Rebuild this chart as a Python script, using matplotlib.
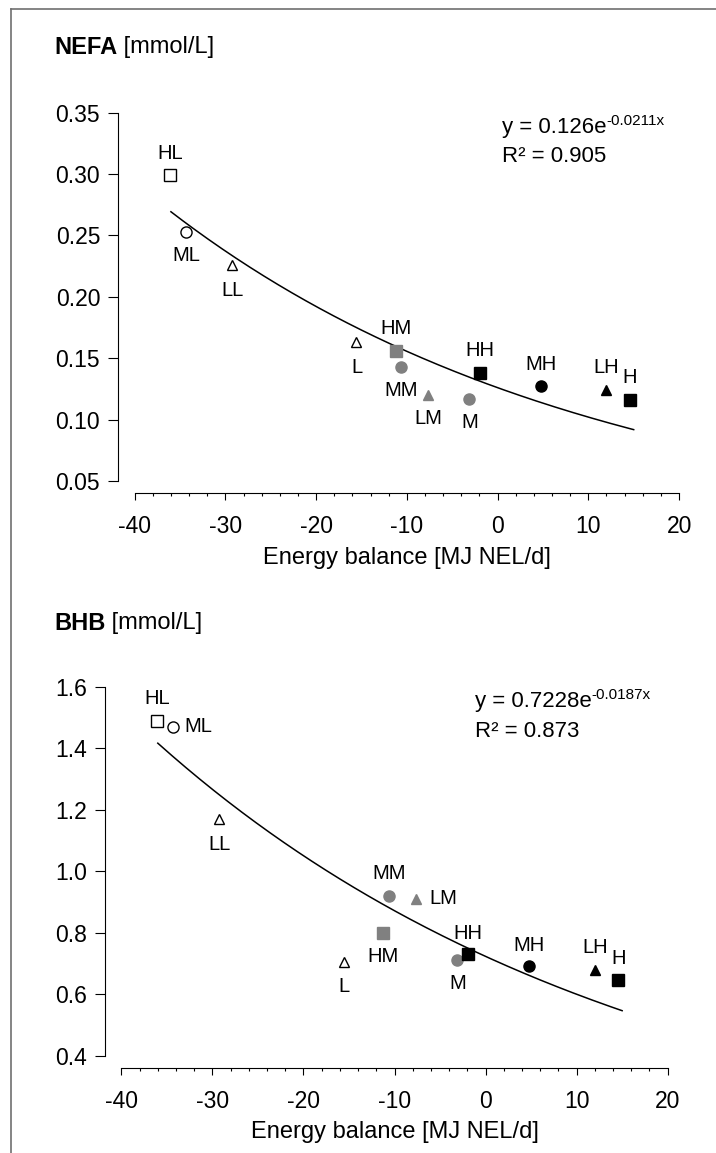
import numpy as np
import matplotlib
matplotlib.use("Agg")
import matplotlib.pyplot as plt
from matplotlib.lines import Line2D
from matplotlib.ticker import MultipleLocator, FormatStrFormatter

plt.rcParams['font.family'] = ['Liberation Sans', 'DejaVu Sans']
plt.rcParams['axes.unicode_minus'] = False

# group means per feeding group
groups = ['HL', 'ML', 'LL', 'L', 'HM', 'MM', 'LM', 'M', 'HH', 'MH', 'LH', 'H']
energy_balance = [-36.1, -34.35, -29.25, -15.55, -11.25, -10.6, -7.65, -3.1, -1.95, 4.75, 12.0, 14.6]
nefa = [0.299, 0.253, 0.226, 0.163, 0.156, 0.143, 0.120, 0.117, 0.138, 0.127, 0.124, 0.116]
bhb = [1.49, 1.47, 1.17, 0.705, 0.80, 0.92, 0.91, 0.71, 0.73, 0.69, 0.68, 0.645]

# exponential trend lines y = a*exp(b*x), with R^2
nefa_fit = (0.126, -0.0211, 0.905)
bhb_fit = (0.7228, -0.0187, 0.873)
fit_range = (-36.0, 15.0)

GRAY = '#808080'
# marker, face, edge
style = {
    'HL': ('s', 'white', 'black'), 'ML': ('o', 'white', 'black'),
    'LL': ('^', 'white', 'black'), 'L': ('^', 'white', 'black'),
    'HM': ('s', GRAY, GRAY), 'MM': ('o', GRAY, GRAY),
    'LM': ('^', GRAY, GRAY), 'M': ('o', GRAY, GRAY),
    'HH': ('s', 'black', 'black'), 'MH': ('o', 'black', 'black'),
    'LH': ('^', 'black', 'black'), 'H': ('s', 'black', 'black'),
}
msize = {'s': 8.5, 'o': 8.0, '^': 7.5}

# label offsets in points (dx, dy)
up, down = 16, -17
off_top = {'HL': (0, up), 'ML': (0, down), 'LL': (0, -18.5), 'L': (0, -18),
           'HM': (0, up), 'MM': (0, down), 'LM': (0, down), 'M': (0, down),
           'HH': (0, up), 'MH': (0, up), 'LH': (0, up), 'H': (0, up)}
off_bot = {'HL': (0, up), 'ML': (18, 0), 'LL': (0, -18.5), 'L': (0, -18),
           'HM': (0, down), 'MM': (0, up), 'LM': (20, 0), 'M': (0, down),
           'HH': (0, 15), 'MH': (0, 15), 'LH': (0, up), 'H': (0, up)}

W, H = 716, 1153
fig = plt.figure(figsize=(W / 100, H / 100), dpi=100)

# thin frame along the top and left edge
fig.add_artist(Line2D([10.7 / W, 10.7 / W], [0, 1 - 9 / H], transform=fig.transFigure,
                      color='#707070', lw=1.2))
fig.add_artist(Line2D([10.7 / W, 1], [1 - 9 / H, 1 - 9 / H], transform=fig.transFigure,
                      color='#707070', lw=1.2))


def build(rect, y, ylim, yticks, yfmt, fit, offsets, bold, rest, title_y, eq_pos):
    ax = fig.add_axes(rect)
    for g, xv, yv in zip(groups, energy_balance, y):
        m, fc, ec = style[g]
        ax.plot(xv, yv, m, ms=msize[m], mfc=fc, mec=ec, mew=1.0, zorder=3)
        ax.annotate(g, (xv, yv), xytext=offsets[g], textcoords='offset points',
                    ha='center', va='center', fontsize=14.5)
    a, b, r2 = fit
    xs = np.linspace(fit_range[0], fit_range[1], 200)
    ax.plot(xs, a * np.exp(b * xs), color='black', lw=1.1, zorder=2)

    ax.set_xlim(-41.8, 20.5)
    ax.set_ylim(*ylim)
    ax.spines['top'].set_visible(False)
    ax.spines['right'].set_visible(False)
    ax.spines['left'].set_bounds(yticks[0], yticks[-1])
    ax.spines['bottom'].set_bounds(-40, 20)
    for s in ('left', 'bottom'):
        ax.spines[s].set_linewidth(0.8)
    ax.set_xticks(np.arange(-40, 21, 10))
    ax.xaxis.set_minor_locator(MultipleLocator(2))
    ax.set_yticks(yticks)
    ax.yaxis.set_major_formatter(FormatStrFormatter(yfmt))
    ax.tick_params(axis='x', which='major', length=5, width=0.8, pad=11, labelsize=16.5)
    ax.tick_params(axis='x', which='minor', length=2.5, width=0.8)
    ax.tick_params(axis='y', which='major', length=7, width=0.8, pad=6, labelsize=16.5)

    # x label centred under the -40..20 spine
    ax.set_xlabel('Energy balance [MJ NEL/d]', fontsize=17, labelpad=6)
    x0, x1 = ax.get_xlim()
    ax.xaxis.label.set_x((-10 - x0) / (x1 - x0))

    # trend line equation with raised exponent
    t = ax.text(eq_pos[0], eq_pos[1], 'y = %se' % repr(a), transform=ax.transAxes,
                ha='left', va='center', fontsize=16)
    ax.annotate(repr(b) + 'x', xy=(1.0, 0.62), xycoords=t,
                ha='left', va='baseline', fontsize=11)
    ax.text(eq_pos[0], eq_pos[2], 'R² = %.3f' % r2, transform=ax.transAxes,
            ha='left', va='center', fontsize=16)

    # panel heading: bold variable name, then unit
    tb = fig.text(54 / W, 1 - title_y / H, bold, fontsize=17, fontweight='bold',
                  ha='left', va='center')
    ax.annotate(' ' + rest, xy=(1.0, 0.5), xycoords=tb, ha='left', va='center',
                fontsize=17, annotation_clip=False)
    return ax


build([118.3 / W, 660 / H, (683.6 - 118.3) / W, 380.3 / H], nefa, (0.0402, 0.35),
      np.round(np.arange(0.05, 0.351, 0.05), 2), '%.2f', nefa_fit, off_top,
      'NEFA', '[mmol/L]', 47, (0.679, 0.96, 0.886))
build([105 / W, 85.5 / H, (672.2 - 105) / W, 380.5 / H], bhb, (0.361, 1.6),
      np.round(np.arange(0.4, 1.61, 0.2), 1), '%.1f', bhb_fit, off_bot,
      'BHB', '[mmol/L]', 623, (0.652, 0.961, 0.8825))

fig.savefig('out.png', dpi=100)
